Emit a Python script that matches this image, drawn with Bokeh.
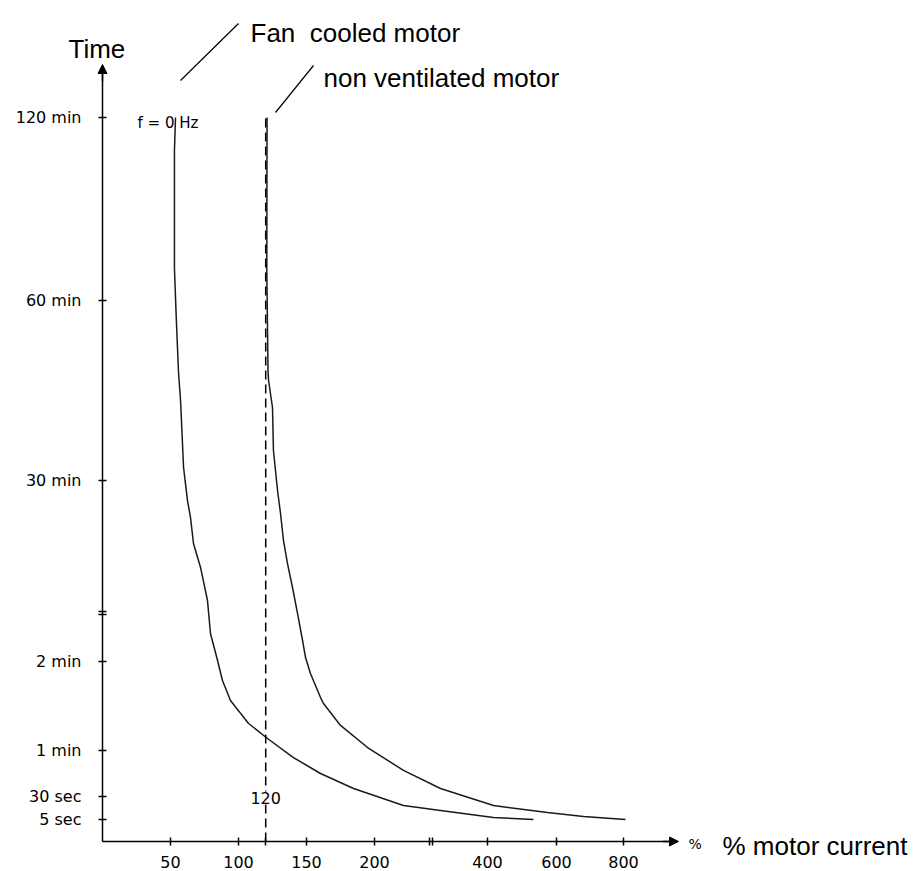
import numpy as np
from bokeh.plotting import figure
from bokeh.models import Range1d, FixedTicker, Label, Arrow, NormalHead, LinearAxis
from bokeh.embed import file_html
from bokeh.resources import INLINE

# ---------------- data ----------------
# fan cooled motor: % motor current vs. time (seconds)
FAN_CURRENT = [53.7, 52.9, 52.9, 54.4, 55.9, 57.4, 59.6, 62.5, 64.7, 66.9, 72.1, 77.2, 79.4,
               84.6, 88.2, 94.1, 107.4, 121.3, 140.4, 160.3, 184.6, 251.3, 316.8, 417.4, 533.3]
FAN_TIME_S = [7200, 6551, 4230, 3370, 2880, 2600, 1930, 1614, 1457, 1215, 993, 686, 380,
              129, 107.2, 93.7, 78.2, 68.1, 55.4, 45.0, 35.2, 20.2, 14.8, 7.2, 5.0]
# non ventilated motor
NV_CURRENT = [121.0, 120.8, 121.7, 122.1, 125.0, 125.7, 128.7, 130.9, 133.1, 136.0, 139.7, 143.4,
              147.1, 149.3, 152.9, 160.3, 162.5, 175.0, 194.9, 251.3, 316.8, 417.4, 573.9, 680.6, 806.0]
NV_TIME_S = [7200, 4190, 2900, 2800, 2530, 2100, 1707, 1494, 1243, 1030, 807, 566,
             315, 157, 111.9, 95.7, 91.7, 76.9, 62.0, 47.0, 35.2, 20.2, 12.6, 8.3, 5.0]

X_TICKS = [50, 100, 120, 150, 200, 400, 600, 800]
X_TICK_LABELS = ["50", "100", "", "150", "200", "400", "600", "800"]
Y_TICKS_S = [5, 30, 60, 120, 1800, 3600, 7200]
Y_TICK_LABELS = ["5 sec", "30 sec", "1 min", "2 min", "30 min", "60 min", "120 min"]
F0_CURRENT = 120          # dashed reference line
F0_TOP_S = 7200

# ------------- axis layout (piecewise scale with breaks) -------------
X_ANCHOR_VAL = [0, 50, 100, 150, 200, 400, 600, 800, 900]
X_ANCHOR_POS = [0, 68, 136, 204, 272, 385, 454, 521, 554.5]
Y_ANCHOR_VAL = [0, 5, 30, 60, 120, 1800, 3600, 7200]
Y_ANCHOR_POS = [0, 22, 45, 91, 180, 361, 541, 724]


def fx(v):
    return np.interp(v, X_ANCHOR_VAL, X_ANCHOR_POS)


def fy(v):
    return np.interp(v, Y_ANCHOR_VAL, Y_ANCHOR_POS)


W, H = 915, 871
OX, OY = 102, 841          # origin of the axes on the canvas
p = figure(width=W, height=H, x_range=Range1d(-OX, W - OX), y_range=Range1d(OY - H, OY),
           output_backend="svg", toolbar_location=None,
           x_axis_location=None, y_axis_location=None,
           min_border_left=0, min_border_right=0, min_border_top=0, min_border_bottom=0)
p.grid.visible = False
p.outline_line_color = None

TICK_FONT = "DejaVu Sans"
BIG_FONT = "Liberation Sans"

xt = [float(round(v, 4)) for v in fx(X_TICKS)]
yt = [float(round(v, 4)) for v in fy(Y_TICKS_S)]
xaxis = LinearAxis(fixed_location=0, bounds=(0, 570),
                   ticker=FixedTicker(ticks=xt),
                   major_label_overrides={t: l for t, l in zip(xt, X_TICK_LABELS)})
yaxis = LinearAxis(fixed_location=0, bounds=(0, 770),
                   ticker=FixedTicker(ticks=yt),
                   major_label_overrides={t: l for t, l in zip(yt, Y_TICK_LABELS)})
for ax in (xaxis, yaxis):
    ax.axis_line_width = 1.5
    ax.axis_line_color = "black"
    ax.major_tick_line_width = 1.5
    ax.major_tick_line_color = "black"
    ax.major_tick_in = 4
    ax.major_tick_out = 4
    ax.minor_tick_line_color = None
    ax.major_label_text_font = TICK_FONT
    ax.major_label_text_font_size = "16px"
    ax.major_label_text_color = "black"
yaxis.major_label_standoff = 17
xaxis.major_label_standoff = 10
p.add_layout(xaxis, "below")
p.add_layout(yaxis, "left")

# curves
p.line(fx(FAN_CURRENT), fy(FAN_TIME_S), line_width=1.5, line_color="#1a1a1a")
p.line(fx(NV_CURRENT), fy(NV_TIME_S), line_width=1.5, line_color="#1a1a1a")
p.line([fx(F0_CURRENT)] * 2, [0, fy(F0_TOP_S)], line_width=1.5, line_color="black",
       line_dash="9 5")

# axis arrows
p.add_layout(Arrow(end=NormalHead(size=9, fill_color="black", line_color="black"),
                   x_start=0, y_start=760, x_end=0, y_end=777, line_width=1.5))
p.add_layout(Arrow(end=NormalHead(size=9, fill_color="black", line_color="black"),
                   x_start=560, y_start=0, x_end=576, y_end=0, line_width=1.5))

# axis break marks
for yy in (230, 227):
    p.add_layout(Arrow(end=None, x_start=-4, y_start=yy, x_end=4, y_end=yy, line_width=1.5))
for xx in (327, 330):
    p.add_layout(Arrow(end=None, x_start=xx, y_start=-4, x_end=xx, y_end=4, line_width=1.5))

# callout lines
p.add_layout(Arrow(end=None, x_start=78, y_start=761, x_end=136, y_end=818, line_width=1.2))
p.add_layout(Arrow(end=None, x_start=173, y_start=729, x_end=211, y_end=776, line_width=1.2))


def lab(x, y, text, size, font=BIG_FONT, align="left", baseline="alphabetic", bg=None):
    p.add_layout(Label(x=x, y=y, text=text, text_font=font, text_font_size=size,
                       text_align=align, text_baseline=baseline, text_color="black",
                       background_fill_color=bg))


lab(-34, 793, "Time", "26px")
lab(148, 809, "Fan\u00a0 cooled motor", "26px")
lab(221, 764, "non ventilated motor", "26px")
lab(620, -4, "% motor current", "26px")
lab(586, -2, "%", "14px", font=TICK_FONT)
lab(35, 719, "f = 0 Hz", "15px", font=TICK_FONT)
lab(float(fx(F0_CURRENT)), 44, "120", "16px", font=TICK_FONT, align="center",
    baseline="middle", bg="white")

open("out.html", "w").write(file_html(p, INLINE))
